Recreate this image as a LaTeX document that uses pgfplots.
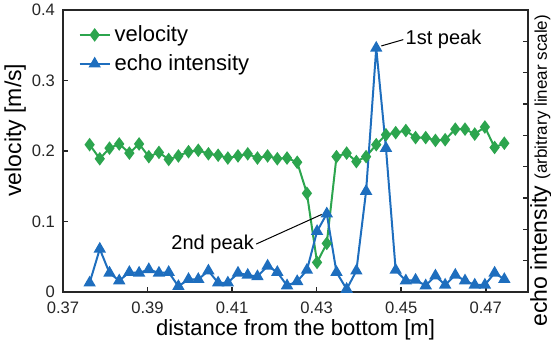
\documentclass[border=0pt]{standalone}
\usepackage{fontspec}
\setmainfont{Liberation Sans}
\usepackage{pgfplots}
\pgfplotsset{compat=1.18}
\definecolor{vgreen}{RGB}{44,165,78}
\definecolor{eblue}{RGB}{30,110,190}
\begin{document}
\begin{tikzpicture}
\begin{axis}[
  name=ax, at={(0,0)}, anchor=south west,
  scale only axis, width=232.5pt, height=141pt,
  xmin=0.37, xmax=0.48, ymin=0, ymax=0.4,
  xtick={0.37,0.39,0.41,0.43,0.45,0.47},
  xticklabels={0.37,0.39,0.41,0.43,0.45,0.47},
  ytick={0,0.1,0.2,0.3,0.4},
  yticklabels={0,0.1,0.2,0.3,0.4},
  xtick pos=bottom, ytick pos=left,
  tick align=inside, major tick length=2.5pt,
  /pgf/number format/assume math mode=true,
  tick label style={font=\fontsize{8.3}{10}\selectfont, black!85},
  xticklabel style={yshift=-1.5pt},
  yticklabel style={xshift=-0.5pt},
  axis line style={line width=0.9pt, black!85},
  every tick/.style={line width=0.8pt, black!85},
  xlabel={distance from the bottom [m]},
  ylabel={velocity [m/s]},
  xlabel style={font=\fontsize{11}{13}\selectfont, at={(axis description cs:0.5,-0.135)}, anchor=center},
  ylabel style={font=\fontsize{11.5}{13}\selectfont, at={(axis description cs:-0.103,0.574)}, anchor=center, rotate=0},
  legend style={draw=none, fill=none, at={(axis description cs:0.02,0.975)}, anchor=north west,
    font=\fontsize{11}{13}\selectfont, row sep=1pt, cells={anchor=west}},
  legend image code/.code={\draw[#1] (0pt,0pt) -- (15pt,0pt); \draw[#1,only marks] plot coordinates {(7.5pt,0pt)};},
]
\addplot[color=vgreen, line width=1pt, mark=diamond*, mark size=2.6pt, mark options={fill=vgreen, draw=vgreen}] coordinates {
(0.3763,0.209) (0.3787,0.189) (0.3810,0.204) (0.3833,0.210) (0.3857,0.197)
(0.3880,0.210) (0.3903,0.192) (0.3927,0.198) (0.3950,0.188) (0.3973,0.193)
(0.3997,0.199) (0.4020,0.201) (0.4044,0.196) (0.4067,0.194) (0.4090,0.190)
(0.4114,0.193) (0.4137,0.196) (0.4160,0.190) (0.4184,0.193) (0.4207,0.189)
(0.4230,0.190) (0.4254,0.184) (0.4277,0.140) (0.4301,0.042) (0.4324,0.069)
(0.4347,0.192) (0.4371,0.197) (0.4394,0.185) (0.4417,0.192) (0.4441,0.209)
(0.4464,0.223) (0.4487,0.226) (0.4511,0.229) (0.4534,0.219) (0.4558,0.219)
(0.4581,0.215) (0.4604,0.216) (0.4628,0.231) (0.4651,0.231) (0.4674,0.224)
(0.4698,0.234) (0.4721,0.205) (0.4744,0.211)
};
\addlegendentry{velocity}
\addplot[color=eblue, line width=1pt, mark=triangle*, mark size=2.6pt, mark options={fill=eblue, draw=eblue}] coordinates {
(0.3763,0.013) (0.3787,0.061) (0.3810,0.027) (0.3833,0.016) (0.3857,0.028)
(0.3880,0.027) (0.3903,0.032) (0.3927,0.027) (0.3950,0.028) (0.3973,0.008)
(0.3997,0.018) (0.4020,0.018) (0.4044,0.030) (0.4067,0.013) (0.4090,0.013)
(0.4114,0.027) (0.4137,0.024) (0.4160,0.022) (0.4184,0.037) (0.4207,0.028)
(0.4230,0.009) (0.4254,0.015) (0.4277,0.031) (0.4301,0.086) (0.4324,0.111)
(0.4347,0.028) (0.4371,0.004) (0.4394,0.030) (0.4417,0.143) (0.4441,0.346)
(0.4464,0.204) (0.4487,0.031) (0.4511,0.016) (0.4534,0.017) (0.4558,0.009)
(0.4581,0.023) (0.4604,0.010) (0.4628,0.024) (0.4651,0.016) (0.4674,0.010)
(0.4698,0.010) (0.4721,0.027) (0.4744,0.018)
};
\addlegendentry{echo intensity}
\node[font=\fontsize{10}{12}\selectfont, anchor=west, inner sep=1pt] (p1) at (axis cs:0.4505,0.358) {1st peak};
\draw[line width=0.5pt] (axis cs:0.4453,0.349) -- (p1.west);
\node[font=\fontsize{10}{12}\selectfont, anchor=east, inner sep=1pt] (p2) at (axis cs:0.4157,0.068) {2nd peak};
\draw[line width=0.5pt] (p2.east) -- (axis cs:0.4312,0.110);
\end{axis}
\begin{axis}[
  at={(0,0)}, anchor=south west,
  scale only axis, width=232.5pt, height=141pt,
  xmin=0.37, xmax=0.48, ymin=0, ymax=9,
  axis x line=none, axis y line*=right,
  ytick={0,1,2,3,4,5,6,7,8,9}, yticklabels={},
  tick align=inside, major tick length=2.5pt,
  axis line style={line width=0.9pt, black!85},
  every tick/.style={line width=0.8pt, black!85},
  ylabel={echo intensity {\fontsize{8.5}{10}\selectfont(arbitrary linear scale)}},
  ylabel style={font=\fontsize{11.5}{13}\selectfont, at={(axis description cs:1.028,0.43)}, anchor=center, rotate=0},
]
\end{axis}
\pgfresetboundingbox
\useasboundingbox (-31.5pt,-27.5pt) rectangle (244pt,146pt);
\end{tikzpicture}
\end{document}
